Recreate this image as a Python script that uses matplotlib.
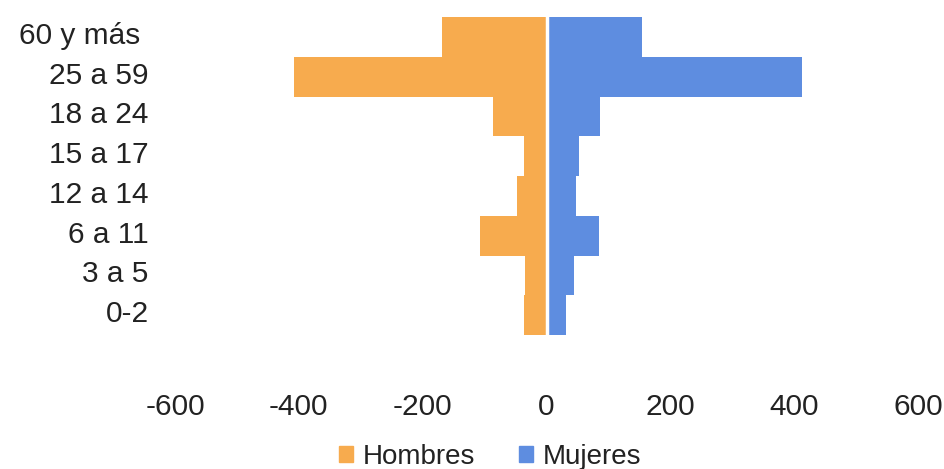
import matplotlib
matplotlib.use('Agg')
import matplotlib.pyplot as plt
from matplotlib.patches import Patch
from matplotlib.transforms import ScaledTranslation

categories = ['0-2', '3 a 5', '6 a 11', '12 a 14', '15 a 17', '18 a 24', '25 a 59', '60 y más ']
hombres = [36, 34, 107, 48, 37, 86, 407, 168]
mujeres = [32, 45, 84, 48, 53, 86, 412, 155]
xticks = [-600, -400, -200, 0, 200, 400, 600]
series_names = ['Hombres', 'Mujeres']

c_h = '#F7AB4E'
c_m = '#5E8DE0'

plt.rcParams['font.family'] = ['Liberation Sans', 'DejaVu Sans']
fig = plt.figure(figsize=(9.44, 4.69), dpi=100)
ax = fig.add_axes([175 / 944, (469 - 335) / 469, 743 / 944, 318 / 469])

y = list(range(len(categories)))
ax.barh(y, [-v for v in hombres], height=1.0, color=c_h)
ax.barh(y, mujeres, height=1.0, color=c_m)
ax.axvline(0, color='white', lw=2.5)

ax.set_xlim(-600, 600)
ax.set_ylim(-0.5, 7.5)
ax.set_xticks(xticks)
ax.set_xticklabels([str(t) for t in xticks])
ax.set_yticks(y)
ax.set_yticklabels(categories)
for s in ax.spines.values():
    s.set_visible(False)
ax.tick_params(length=0, labelsize=21.5, colors='#222222')
ax.tick_params(axis='x', pad=42)
ax.tick_params(axis='y', pad=19)

off = ScaledTranslation(0, 4 / 100, fig.dpi_scale_trans)
for lab in ax.get_yticklabels():
    lab.set_transform(lab.get_transform() + off)

handles = [Patch(color=c_h), Patch(color=c_m)]
fig.legend(handles, series_names, loc='center', bbox_to_anchor=(490 / 944, 12 / 469),
           ncol=2, frameon=False, fontsize=20, handlelength=0.5, handleheight=0.5,
           handletextpad=0.35, columnspacing=1.6, labelcolor='#222222')

fig.savefig('out.png', dpi=100)
